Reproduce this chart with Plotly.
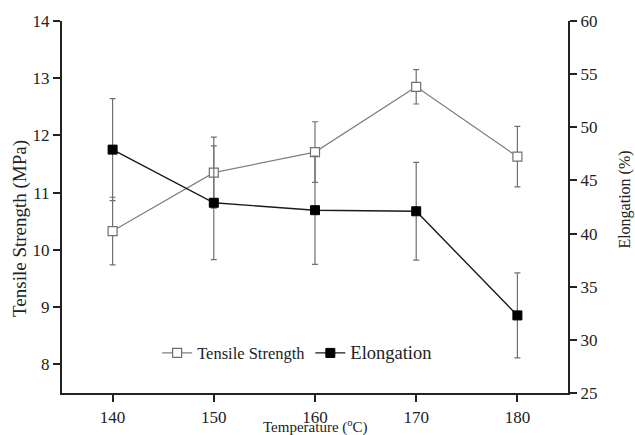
import plotly.graph_objects as go

temps = [140, 150, 160, 170, 180]
tensile = [10.33, 11.35, 11.71, 12.85, 11.63]
tensile_err = [0.59, 0.62, 0.53, 0.30, 0.53]
elong = [47.9, 42.9, 42.2, 42.1, 32.3]
elong_err = [4.8, 5.35, 5.1, 4.6, 4.0]

x_ticks = [140, 150, 160, 170, 180]
left_ticks = [8, 9, 10, 11, 12, 13, 14]
right_ticks = [25, 30, 35, 40, 45, 50, 55, 60]

FONT = "Liberation Serif, Times New Roman, serif"

fig = go.Figure()
fig.add_trace(go.Scatter(
    x=temps, y=tensile, name="<span style='font-size:16.5px'>Tensile Strength</span>",
    mode="lines+markers",
    line=dict(color="#808080", width=1.2),
    marker=dict(symbol="square", size=9, color="white", line=dict(color="#707070", width=1.2)),
    error_y=dict(type="data", array=tensile_err, visible=True, color="#707070", thickness=1.2, width=3),
    yaxis="y",
))
fig.add_trace(go.Scatter(
    x=temps, y=elong, name="<span style='font-size:18.5px'>Elongation</span>",
    mode="lines+markers",
    line=dict(color="#1a1a1a", width=1.4),
    marker=dict(symbol="square", size=9, color="#000000", line=dict(color="#000000", width=1)),
    error_y=dict(type="data", array=elong_err, visible=True, color="#707070", thickness=1.2, width=3),
    yaxis="y2",
))

axis_common = dict(
    showline=True, linecolor="#222", linewidth=2, ticks="outside", ticklen=7,
    tickwidth=1.5, tickcolor="#222", showgrid=False, zeroline=False, automargin=False,
    tickfont=dict(family=FONT, size=17, color="#222"),
)

fig.update_layout(
    width=635, height=435,
    margin=dict(l=62, r=67, t=21, b=42, autoexpand=False),
    paper_bgcolor="white", plot_bgcolor="white",
    font=dict(family=FONT, color="#222"),
    showlegend=True,
    legend=dict(
        orientation="h", x=0.188, y=0.1075, xanchor="left", yanchor="middle",
        bgcolor="rgba(0,0,0,0)", font=dict(family=FONT, size=16, color="#222"),
        itemwidth=30, tracegroupgap=0,
    ),
    xaxis=dict(range=[135, 185], tickvals=x_ticks, ticklabelstandoff=1, **axis_common),
    yaxis=dict(range=[7.5, 14], tickvals=left_ticks, **axis_common),
    yaxis2=dict(range=[25, 60], tickvals=right_ticks, overlaying="y", side="right", **axis_common),
    annotations=[
        dict(text="Temperature (<sup>o</sup>C)", x=0.5, y=-0.089, xref="paper", yref="paper",
             xanchor="center", yanchor="middle", showarrow=False, font=dict(family=FONT, size=15)),
        dict(text="Tensile Strength (MPa)", x=-0.083, y=0.441, xref="paper", yref="paper",
             xanchor="center", yanchor="middle", textangle=-90, showarrow=False,
             font=dict(family=FONT, size=19)),
        dict(text="Elongation (%)", x=1.112, y=0.519, xref="paper", yref="paper",
             xanchor="center", yanchor="middle", textangle=-90, showarrow=False,
             font=dict(family=FONT, size=16)),
    ],
)

# remove the default page margin so the 635x435 figure fills the window exactly
fig.write_html(
    "out.html",
    config={"displayModeBar": False},
    post_script="document.body.style.margin='0';document.body.style.overflow='hidden';",
)
